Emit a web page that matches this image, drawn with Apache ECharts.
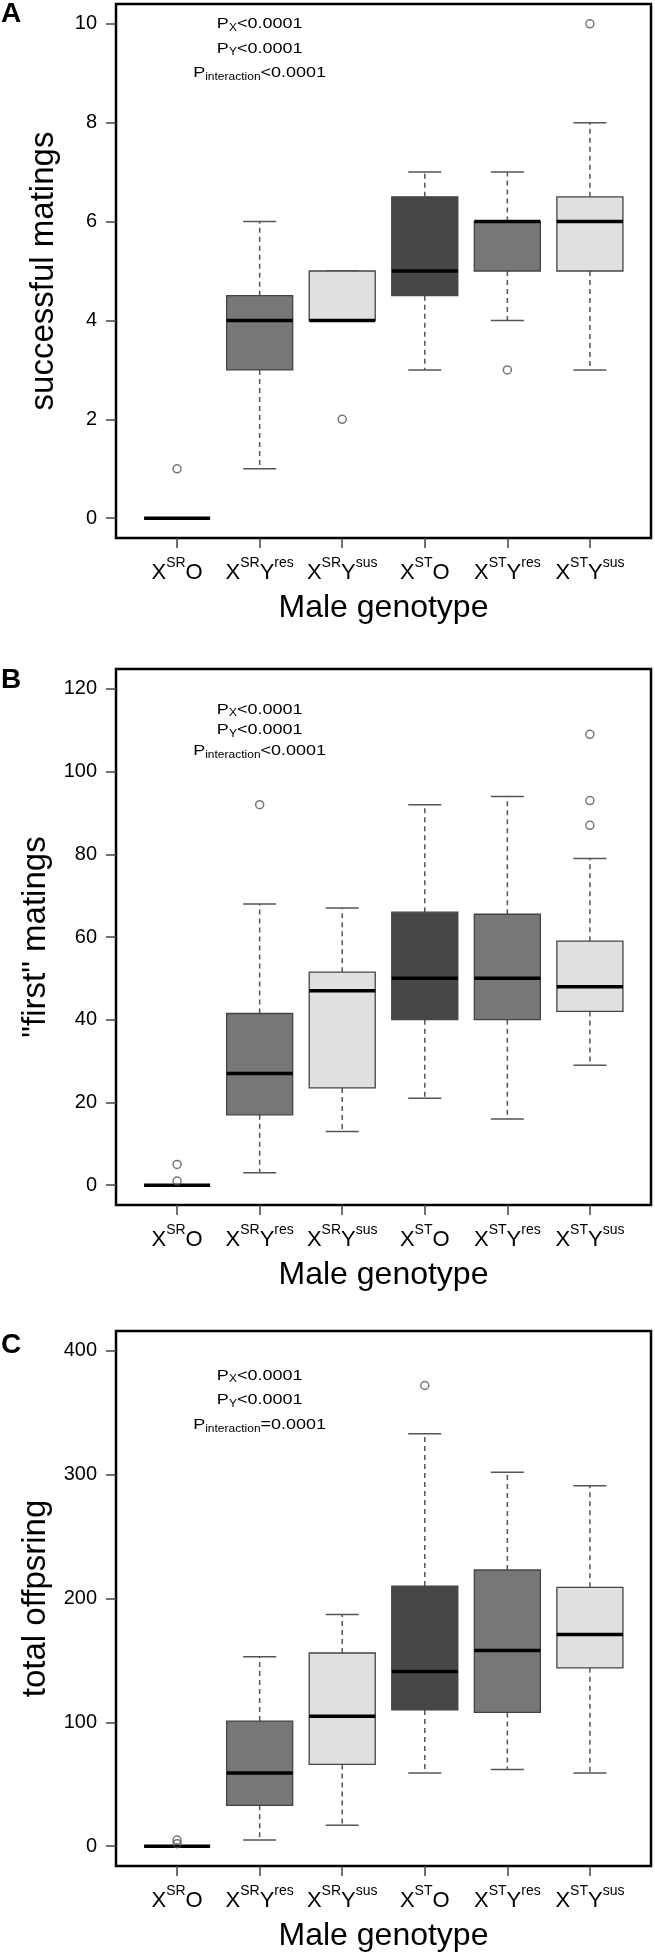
<!DOCTYPE html>
<html><head><meta charset="utf-8">
<script src="https://cdn.jsdelivr.net/npm/echarts@6/dist/echarts.min.js"></script>
<style>html,body{margin:0;padding:0;background:#fff}#c{width:655px;height:1955px}</style>
</head><body><div id="c"></div>
<script>
// ---- data ----
const categoryLabels = [
  '{m|X}{s|SR}{m|O}',
  '{m|X}{s|SR}{m|Y}{s|res}',
  '{m|X}{s|SR}{m|Y}{s|sus}',
  '{m|X}{s|ST}{m|O}',
  '{m|X}{s|ST}{m|Y}{s|res}',
  '{m|X}{s|ST}{m|Y}{s|sus}'
];
const categoryPositions = [1, 2, 3, 4, 5, 6];
const xTitle = 'Male genotype';
const panelLetters = ['A', 'B', 'C'];
const yTitles = ['successful matings', '"first" matings', 'total offpsring'];

const yTicksA = [0, 2, 4, 6, 8, 10];
const yTicksB = [0, 20, 40, 60, 80, 100, 120];
const yTicksC = [0, 100, 200, 300, 400];

// [lower whisker, Q1, median, Q3, upper whisker]
const statsA = [
  [0, 0, 0, 0, 0],
  [1, 3, 4, 4.5, 6],
  [4, 4, 4, 5, 5],
  [3, 4.5, 5, 6.5, 7],
  [4, 5, 6, 6, 7],
  [3, 5, 6, 6.5, 8]
];
const outliersA = [[1, 1], [3, 2], [5, 3], [6, 10]];

const statsB = [
  [0, 0, 0, 0, 0],
  [3, 17, 27, 41.5, 68],
  [13, 23.5, 47, 51.5, 67],
  [21, 40, 50, 66, 92],
  [16, 40, 50, 65.5, 94],
  [29, 42, 48, 59, 79]
];
const outliersB = [[1, 5], [1, 1], [2, 92], [6, 109], [6, 93], [6, 87]];

const statsC = [
  [0, 0, 0, 0, 0],
  [5, 33, 59, 101, 153],
  [17, 66, 105, 156, 187],
  [59, 110, 141, 210, 333],
  [62, 108, 158, 223, 302],
  [59, 144, 171, 209, 291]
];
const outliersC = [[1, 5], [1, 2], [4, 372]];

const pTextsA = ['{p|P}{s|X}{p|<0.0001}', '{p|P}{s|Y}{p|<0.0001}', '{p|P}{s|interaction}{p|<0.0001}'];
const pYA = [10, 9.5, 9];
const pTextsB = ['{p|P}{s|X}{p|<0.0001}', '{p|P}{s|Y}{p|<0.0001}', '{p|P}{s|interaction}{p|<0.0001}'];
const pYB = [115, 110, 105];
const pTextsC = ['{p|P}{s|X}{p|<0.0001}', '{p|P}{s|Y}{p|<0.0001}', '{p|P}{s|interaction}{p|=0.0001}'];
const pYC = [380, 360, 340];
const pX = 2;

// ---- styles ----
const FONT = 'Liberation Sans, Arial, Helvetica, sans-serif';
const boxFills = ['#777777', '#777777', '#e0e0e0', '#474747', '#777777', '#e0e0e0'];
const grids = [
  {left: 116, top: 4, width: 535, height: 534},
  {left: 116, top: 669, width: 535, height: 536},
  {left: 116, top: 1331, width: 535, height: 535}
];
const yRanges = [[-0.4, 10.4], [-4.8, 124.8], [-16, 416]];
const yTicks = [yTicksA, yTicksB, yTicksC];
const statsAll = [statsA, statsB, statsC];
const outAll = [outliersA, outliersB, outliersC];
const pTexts = [pTextsA, pTextsB, pTextsC];
const pYs = [pYA, pYB, pYC];
const letterTops = [0, 666, 1331];

const chart = echarts.init(document.getElementById('c'), null, {renderer: 'canvas'});

const option = {
  backgroundColor: '#fff',
  animation: false,
  textStyle: {fontFamily: FONT},
  title: panelLetters.map((t, i) => ({
    text: t, left: 1, top: letterTops[i], padding: 0,
    textStyle: {fontSize: 28, fontWeight: 'bold', color: '#000', fontFamily: FONT}
  })),
  grid: grids.map(g => Object.assign({show: true, borderColor: '#000', borderWidth: 2.5, backgroundColor: 'transparent'}, g)),
  xAxis: grids.map((g, i) => ({
    type: 'value', gridIndex: i, min: 0.26, max: 6.74, position: 'bottom',
    name: xTitle, nameLocation: 'middle', nameGap: 54,
    nameTextStyle: {fontSize: 32, color: '#000', fontFamily: FONT},
    splitLine: {show: false},
    axisLine: {show: true, onZero: false, lineStyle: {color: 'rgba(0,0,0,0)'}},
    axisTick: {show: true, inside: false, customValues: categoryPositions, length: 10, lineStyle: {color: '#444', width: 1.5}},
    axisLabel: {
      show: true, customValues: categoryPositions, margin: 18,
      formatter: v => categoryLabels[Math.round(v) - 1],
      rich: {
        m: {fontSize: 22, lineHeight: 34, color: '#000', fontFamily: FONT},
        s: {fontSize: 14, lineHeight: 14, verticalAlign: 'top', color: '#000', fontFamily: FONT}
      }
    }
  })),
  yAxis: grids.map((g, i) => ({
    type: 'value', gridIndex: i, min: yRanges[i][0], max: yRanges[i][1], position: 'left',
    name: yTitles[i], nameLocation: 'middle', nameGap: 56, nameRotate: 90,
    nameTextStyle: {fontSize: 33, color: '#000', fontFamily: FONT},
    splitLine: {show: false},
    axisLine: {show: true, onZero: false, lineStyle: {color: 'rgba(0,0,0,0)'}},
    axisTick: {show: true, inside: false, customValues: yTicks[i], length: 10, lineStyle: {color: '#444', width: 1.5}},
    axisLabel: {show: true, customValues: yTicks[i], margin: 19, fontSize: 20, color: '#000', fontFamily: FONT}
  })),
  series: []
};

function boxRender(params, api) {
  const x = api.value(0);
  const low = api.value(1), q1 = api.value(2), med = api.value(3), q3 = api.value(4), high = api.value(5);
  const pLow = api.coord([x, low]);
  const pQ1 = api.coord([x, q1]);
  const pMed = api.coord([x, med]);
  const pQ3 = api.coord([x, q3]);
  const pHigh = api.coord([x, high]);
  const hw = api.size([0.8, 0])[0] / 2;
  const cw = api.size([0.4, 0])[0] / 2;
  const cx = pMed[0];
  const whisk = {stroke: '#555', lineWidth: 1.5, lineDash: [5, 4]};
  const cap = {stroke: '#555', lineWidth: 1.5};
  const children = [];
  if (high > q3) children.push({type: 'line', shape: {x1: cx, y1: pQ3[1], x2: cx, y2: pHigh[1]}, style: whisk});
  if (low < q1) children.push({type: 'line', shape: {x1: cx, y1: pQ1[1], x2: cx, y2: pLow[1]}, style: whisk});
  children.push({type: 'line', shape: {x1: cx - cw, y1: pHigh[1], x2: cx + cw, y2: pHigh[1]}, style: cap});
  children.push({type: 'line', shape: {x1: cx - cw, y1: pLow[1], x2: cx + cw, y2: pLow[1]}, style: cap});
  if (q3 > q1) {
    children.push({type: 'rect', shape: {x: cx - hw, y: pQ3[1], width: 2 * hw, height: pQ1[1] - pQ3[1]},
      style: {fill: boxFills[params.dataIndex], stroke: '#444', lineWidth: 1.3}});
  }
  children.push({type: 'line', shape: {x1: cx - hw, y1: pMed[1], x2: cx + hw, y2: pMed[1]}, style: {stroke: '#000', lineWidth: 3.5}});
  return {type: 'group', children};
}

for (let i = 0; i < 3; i++) {
  option.series.push({
    type: 'custom', xAxisIndex: i, yAxisIndex: i,
    renderItem: boxRender,
    encode: {x: 0, y: [1, 2, 3, 4, 5]},
    data: statsAll[i].map((s, k) => [categoryPositions[k]].concat(s)),
    z: 2
  });
  option.series.push({
    type: 'scatter', xAxisIndex: i, yAxisIndex: i,
    symbol: 'circle', symbolSize: 8,
    itemStyle: {color: 'rgba(255,255,255,0)', borderColor: '#555', borderWidth: 1.5},
    data: outAll[i],
    z: 3
  });
  const texts = pTexts[i];
  option.series.push({
    type: 'custom', xAxisIndex: i, yAxisIndex: i,
    data: pYs[i].map(y => [pX, y]),
    encode: {x: 0, y: 1},
    renderItem: (params, api) => {
      const pt = api.coord([api.value(0), api.value(1)]);
      return {
        type: 'text', x: pt[0], y: pt[1], scaleX: 1.2,
        style: {
          text: texts[params.dataIndex], align: 'center', verticalAlign: 'middle',
          rich: {
            p: {fontSize: 15, lineHeight: 18, fill: '#000', fontFamily: FONT},
            s: {fontSize: 10, lineHeight: 10, verticalAlign: 'bottom', fill: '#000', fontFamily: FONT}
          }
        }
      };
    },
    z: 4
  });
}

chart.setOption(option);
</script>
</body></html>
